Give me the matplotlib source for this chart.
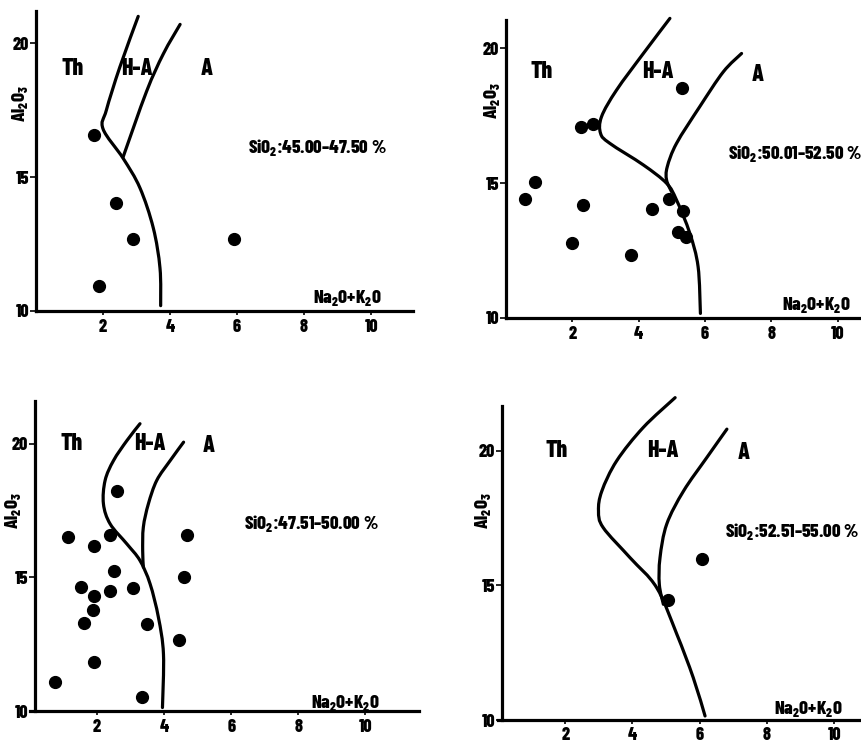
import matplotlib
matplotlib.use("Agg")
import matplotlib.pyplot as plt
from matplotlib import font_manager as fm
from matplotlib.path import Path
from matplotlib.patches import PathPatch

names = {f.name for f in fm.fontManager.ttflist}
FONT = "DejaVu Sans"
for cand in ["Barlow Condensed", "Archivo Narrow", "Asap Condensed", "Liberation Sans Narrow"]:
    if cand in names:
        FONT = cand
        break
WT = 800
plt.rcParams["font.family"] = [FONT, "DejaVu Sans"]
plt.rcParams["font.weight"] = WT
plt.rcParams["mathtext.fontset"] = "custom"
plt.rcParams["mathtext.rm"] = FONT + ":extrabold"
plt.rcParams["mathtext.it"] = FONT + ":extrabold"
plt.rcParams["mathtext.bf"] = FONT + ":extrabold"

# ---------------- data ----------------
titles = ["SiO$_2$:45.00\u201347.50 %", "SiO$_2$:50.01\u201352.50 %",
          "SiO$_2$:47.51\u201350.00 %", "SiO$_2$:52.51\u201355.00 %"]
x_ticks = [2, 4, 6, 8, 10]
y_ticks = [10, 15, 20]
region_labels = ["Th", "H-A", "A"]

# panel 1 : SiO2 45.00-47.50
p1_na = [1.73, 2.39, 2.90, 5.90, 1.87]
p1_al = [16.57, 14.03, 12.70, 12.70, 10.93]
p1_left_x = [3.05, 2.50, 2.10, 2.00, 2.60, 3.10, 3.50, 3.70, 3.72]
p1_left_y = [21.0, 19.1, 17.5, 16.8, 15.7, 14.6, 13.1, 11.6, 10.2]
p1_right_x = [4.30, 3.80, 3.30, 2.60]
p1_right_y = [20.7, 19.6, 18.2, 15.75]

# panel 2 : SiO2 50.01-52.50
p2_na = [5.29, 2.26, 2.61, 0.87, 0.57, 2.33, 4.39, 4.92, 5.34, 5.17, 5.44, 1.98, 3.77]
p2_al = [18.53, 17.09, 17.19, 15.05, 14.41, 14.19, 14.03, 14.40, 13.97, 13.20, 13.01, 12.77, 12.33]
p2_left_x = [4.94, 4.14, 3.33, 2.88, 2.85, 3.13, 4.14, 4.84, 5.14, 5.54, 5.79, 5.86]
p2_left_y = [21.1, 19.8, 18.44, 17.46, 16.84, 16.47, 15.67, 14.99, 14.37, 13.14, 11.9, 10.17]
p2_right_x = [7.10, 6.55, 5.84, 5.14, 4.86, 4.84, 4.99]
p2_right_y = [19.8, 19.12, 17.83, 16.47, 15.6, 15.11, 14.68]

# panel 3 : SiO2 47.51-50.00
p3_na = [2.59, 1.14, 2.39, 1.92, 4.68, 4.60, 2.49, 1.52, 2.39, 3.06, 1.92, 1.89,
         1.62, 3.48, 4.45, 1.92, 0.75, 3.33]
p3_al = [18.25, 16.50, 16.60, 16.19, 16.60, 15.00, 15.25, 14.63, 14.48, 14.59, 14.29, 13.78,
         13.28, 13.26, 12.66, 11.85, 11.07, 10.51]
p3_left_x = [3.28, 2.89, 2.49, 2.24, 2.19, 2.39, 2.89, 3.28, 3.58, 3.83, 3.98, 3.95]
p3_left_y = [20.75, 20.12, 19.37, 18.63, 17.75, 17.0, 16.25, 15.63, 14.76, 13.5, 12.13, 10.13]
p3_right_x = [4.58, 4.18, 3.78, 3.53, 3.38, 3.36, 3.38]
p3_right_y = [20.06, 19.37, 18.63, 17.75, 16.88, 16.0, 15.38]

# panel 4 : SiO2 52.51-55.00
p4_na = [6.06, 5.05]
p4_al = [15.97, 14.46]
p4_left_x = [5.27, 4.32, 3.53, 3.09, 2.99, 3.13, 3.93, 4.72, 5.32, 5.81, 6.16]
p4_left_y = [21.98, 20.87, 19.63, 18.51, 17.77, 17.15, 16.03, 14.92, 13.19, 11.57, 10.15]
p4_right_x = [6.81, 6.21, 5.52, 5.02, 4.82, 4.80, 4.92]
p4_right_y = [20.81, 19.75, 18.51, 17.28, 16.03, 15.04, 14.3]


def smooth_path(ax, xs, ys):
    """Draw a smooth curve through the given vertices (Catmull-Rom as cubic Beziers)."""
    pts = [ax.transData.transform((x, y)) for x, y in zip(xs, ys)]
    n = len(pts)
    verts = [pts[0]]
    codes = [Path.MOVETO]
    for i in range(n - 1):
        p0 = pts[i - 1] if i > 0 else pts[i]
        p1 = pts[i]
        p2 = pts[i + 1]
        p3 = pts[i + 2] if i + 2 < n else pts[i + 1]
        c1 = p1 + (p2 - p0) / 6.0
        c2 = p2 - (p3 - p1) / 6.0
        verts += [c1, c2, p2]
        codes += [Path.CURVE4] * 3
    inv = ax.transData.inverted()
    verts = [inv.transform(v) for v in verts]
    patch = PathPatch(Path(verts, codes), facecolor="none", edgecolor="black", lw=2.3,
                      capstyle="round", joinstyle="round", clip_on=False)
    ax.add_patch(patch)


# ---------------- layout ----------------
W, H = 861, 742
fig = plt.figure(figsize=(W / 100, H / 100), dpi=100)
fig.patch.set_facecolor("white")

panels = [
    dict(box=(36, 11, 413, 311), xmax=11.25, ymax=21.2, yaxis_x=0.0,
         na=p1_na, al=p1_al, lx=p1_left_x, ly=p1_left_y, rx=p1_right_x, ry=p1_right_y,
         lab=[(1.1, 19.05), (3.0, 19.05), (5.1, 19.05)], title=(8.4, 16.1),
         xl=(9.3, 10.5), yl=(-0.48, 17.76)),
    dict(box=(506, 20, 861, 318), xmax=10.7, ymax=21.04, yaxis_x=0.0,
         na=p2_na, al=p2_al, lx=p2_left_x, ly=p2_left_y, rx=p2_right_x, ry=p2_right_y,
         lab=[(1.07, 19.12), (4.59, 19.12), (7.6, 19.0)], title=(8.7, 16.1),
         xl=(9.36, 10.48), yl=(-0.43, 18.07)),
    dict(box=(30, 401, 419, 711), xmax=11.6, ymax=21.6, yaxis_x=0.15,
         na=p3_na, al=p3_al, lx=p3_left_x, ly=p3_left_y, rx=p3_right_x, ry=p3_right_y,
         lab=[(1.24, 20.0), (3.58, 20.0), (5.32, 19.9)], title=(8.4, 17.0),
         xl=(9.4, 10.3), yl=(-0.5, 17.5)),
    dict(box=(498, 406, 861, 720), xmax=10.8, ymax=21.67, yaxis_x=0.12,
         na=p4_na, al=p4_al, lx=p4_left_x, ly=p4_left_y, rx=p4_right_x, ry=p4_right_y,
         lab=[(1.75, 20.0), (4.92, 20.0), (7.3, 19.94)], title=(8.74, 17.0),
         xl=(9.24, 10.4), yl=(-0.44, 17.77)),
]

for i, p in enumerate(panels):
    l, t, r, b = p["box"]
    ax = fig.add_axes([l / W, 1 - b / H, (r - l) / W, (b - t) / H])
    ax.set_xlim(0, p["xmax"])
    ax.set_ylim(10, p["ymax"])
    ax.patch.set_alpha(0)
    for s in ["top", "right"]:
        ax.spines[s].set_visible(False)
    ax.spines["left"].set_linewidth(2.3)
    ax.spines["bottom"].set_linewidth(2.3)
    ax.spines["left"].set_position(("data", p["yaxis_x"]))
    ax.set_xticks(x_ticks)
    ax.set_yticks(y_ticks)
    ax.tick_params(axis="x", length=3, width=1.2, labelsize=13, pad=2 if i == 3 else 3)
    ax.tick_params(axis="y", length=4, width=1.2, labelsize=13, pad=1)
    for lbl in ax.get_xticklabels() + ax.get_yticklabels():
        lbl.set_fontweight(WT)

    smooth_path(ax, p["lx"], p["ly"])
    smooth_path(ax, p["rx"], p["ry"])
    ax.plot(p["na"], p["al"], "o", color="black", markersize=8.5, clip_on=False)

    for (x, y), s in zip(p["lab"], region_labels):
        ax.text(x, y, s, fontsize=17, fontweight=WT, ha="center", va="center")
    ax.text(p["title"][0], p["title"][1], titles[i], fontsize=13.5, fontweight=WT,
            ha="center", va="center")
    ax.text(p["xl"][0], p["xl"][1], "Na$_2$O+K$_2$O", fontsize=13.5, fontweight=WT,
            ha="center", va="center")
    ax.text(p["yl"][0], p["yl"][1], "Al$_2$O$_3$", fontsize=13.5, fontweight=WT,
            ha="center", va="center", rotation=90, clip_on=False)

fig.savefig("out.png", dpi=100)
